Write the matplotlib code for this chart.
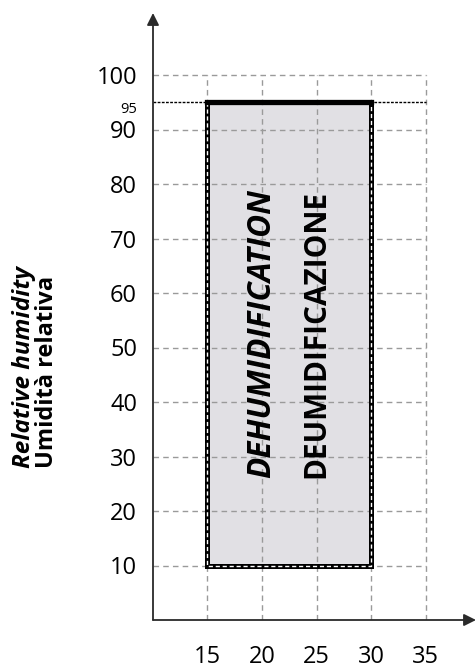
import matplotlib
matplotlib.use("Agg")
import matplotlib.pyplot as plt

# data
x_ticks = [15, 20, 25, 30, 35]
y_ticks = [10, 20, 30, 40, 50, 60, 70, 80, 90, 100]
rh_limit = 95
zone_x = [15, 30]
zone_y = [10, 95]
zone_labels = ["DEHUMIDIFICATION", "DEUMIDIFICAZIONE"]
zone_label_x = [20, 25]
ylabel_en = "Relative humidity"
ylabel_it = "Umidità relativa"

plt.rcParams["font.family"] = ["Open Sans", "DejaVu Sans"]

W, H = 477, 669
fig = plt.figure(figsize=(W / 100, H / 100), dpi=100)

# axes area in pixels: origin (153, 620), ends at the arrow tips
x0px, y0px, x1px, y1px = 153, 620, 476, 13
ax = fig.add_axes([x0px / W, (H - y0px) / H, (x1px - x0px) / W, (y0px - y1px) / H])
px_per_x = 54.5 / 5
px_per_y = 5.45
xmax = 10 + (x1px - x0px) / px_per_x
ymax = (y0px - y1px) / px_per_y
ax.set_xlim(10, xmax)
ax.set_ylim(0, ymax)
for s in ax.spines.values():
    s.set_visible(False)

grid_kw = dict(color="#9a9a9a", lw=1.0, linestyle=(0, (4, 3)), zorder=3)

# zone fill
ax.fill_between(zone_x, zone_y[0], zone_y[1], color="#e1e0e4", zorder=1, lw=0)

# grid
ax.vlines(x_ticks, 0, max(y_ticks), **grid_kw)
ax.hlines(y_ticks, 10, max(x_ticks), **grid_kw)

# zone border: thick black with white dashes, top edge solid
bx = [zone_x[0], zone_x[0], zone_x[1], zone_x[1]]
by = [zone_y[1], zone_y[0], zone_y[0], zone_y[1]]
ax.plot(bx, by, color="black", lw=3.6, zorder=4, solid_joinstyle="miter")
ax.plot(bx, by, color="white", lw=1.0, linestyle=(0, (3, 2)), zorder=5)
ax.plot(zone_x, [rh_limit, rh_limit], color="black", lw=3.8, zorder=6,
        solid_capstyle="projecting")
ax.hlines(rh_limit, 10, max(x_ticks), color="black", lw=1.0,
          linestyle=(0, (2, 1)), zorder=3)

# zone labels
label_y = (y0px - 333.5) / px_per_y
ax.text(zone_label_x[0], label_y, zone_labels[0], rotation=90, ha="center",
        va="center", fontsize=22.7, fontweight="bold", fontstyle="italic", zorder=7)
ax.text(zone_label_x[1], label_y, zone_labels[1], rotation=90, ha="center",
        va="center", fontsize=21.4, fontweight="bold", zorder=7)

# axis arrows
arrow_kw = dict(arrowstyle="-|>", color="#2a2a2a", lw=1.3, mutation_scale=18,
                shrinkA=0, shrinkB=0)
ax.annotate("", xy=(xmax, 0), xytext=(10, 0), arrowprops=arrow_kw,
            annotation_clip=False)
ax.annotate("", xy=(10, ymax), xytext=(10, 0), arrowprops=arrow_kw,
            annotation_clip=False)

# tick labels
ax.set_xticks(x_ticks)
ax.set_xticklabels([str(v) for v in x_ticks])
ax.tick_params(axis="x", length=0, pad=18, labelsize=17)
yt = y_ticks[:-1] + [rh_limit, y_ticks[-1]]
ax.set_yticks(yt)
ax.set_yticklabels([str(v) for v in yt])
ax.tick_params(axis="y", length=0, pad=11.5, labelsize=17)
for lab in ax.get_yticklabels():
    if lab.get_text() == str(rh_limit):
        lab.set_fontsize(10.5)
        lab.set_va("top")

# y label (two lines, rotated)
fig.text(24 / W, 1 - 468 / H, ylabel_en, rotation=90, ha="center", va="bottom",
         fontsize=17.5, fontweight="bold", fontstyle="italic")
fig.text(47 / W, 1 - 468 / H, ylabel_it, rotation=90, ha="center", va="bottom",
         fontsize=17, fontweight="bold")

fig.savefig("out.png", dpi=100)
